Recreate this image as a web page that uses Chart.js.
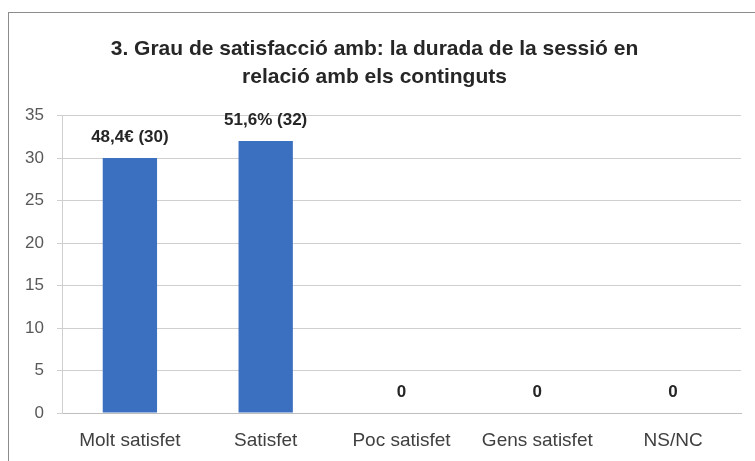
<!DOCTYPE html>
<html>
<head>
<meta charset="utf-8">
<script src="https://cdn.jsdelivr.net/npm/chart.js@4/dist/chart.umd.min.js"></script>
<style>
  body { margin: 0; background: #fff; }
  #wrap { position: relative; width: 755px; height: 461px; }
  #frame { position: absolute; left: 8px; top: 12px; width: 760px; height: 460px;
           border-left: 1px solid #8c8c8c; border-top: 1px solid #8c8c8c; pointer-events: none; }
</style>
</head>
<body>
<div id="wrap">
  <canvas id="grafico" width="755" height="461"></canvas>
  <div id="frame"></div>
</div>
<script>
const categorias = ['Molt satisfet', 'Satisfet', 'Poc satisfet', 'Gens satisfet', 'NS/NC'];
const respostes = [30, 32, 0, 0, 0];
const etiquetes = ['48,4€ (30)', '51,6% (32)', '0', '0', '0'];
const titol = ['3. Grau de satisfacció amb: la durada de la sessió en', 'relació amb els continguts'];

// etiquetes de dades damunt de cada barra
const etiquetesPlugin = {
  id: 'etiquetes',
  afterDatasetsDraw(chart) {
    const ctx = chart.ctx;
    const meta = chart.getDatasetMeta(0);
    ctx.save();
    ctx.font = 'bold 17px "Liberation Sans", Arial, sans-serif';
    ctx.fillStyle = '#262626';
    ctx.textAlign = 'center';
    ctx.textBaseline = 'middle';
    meta.data.forEach((bar, i) => {
      ctx.fillText(etiquetes[i], bar.x, bar.y - 21);
    });
    ctx.restore();
  }
};

const ctx = document.getElementById('grafico');
new Chart(ctx, {
  type: 'bar',
  data: {
    labels: categorias,
    datasets: [{
      label: 'Respostes',
      data: respostes,
      backgroundColor: (c) => {
        const area = c.chart.chartArea;
        const el = c.element;
        if (!area || !el || el.width === undefined) return '#3b6fc0';
        const g = c.chart.ctx.createLinearGradient(el.x - el.width / 2, 0, el.x + el.width / 2, 0);
        g.addColorStop(0, '#3165b4');
        g.addColorStop(0.5, '#4680d0');
        g.addColorStop(1, '#3165b4');
        return g;
      },
      barPercentage: 0.8,
      categoryPercentage: 0.5
    }]
  },
  plugins: [etiquetesPlugin],
  options: {
    responsive: false,
    animation: false,
    layout: { padding: { left: 8, right: 14, top: 13, bottom: 0 } },
    plugins: {
      legend: { display: false },
      tooltip: { enabled: false },
      title: {
        display: true,
        text: titol,
        color: '#262626',
        font: { family: '"Liberation Sans", Arial, sans-serif', size: 21, weight: 'bold', lineHeight: 1.3 },
        padding: { top: 23, bottom: 25 }
      }
    },
    scales: {
      x: {
        grid: { display: false, drawTicks: false },
        border: { display: true, color: '#bfbfbf', width: 1 },
        ticks: {
          color: '#404040',
          padding: 16,
          font: { family: '"Liberation Sans", Arial, sans-serif', size: 19 }
        },
        afterFit: (s) => { s.height = 48; }
      },
      y: {
        min: 0,
        max: 35,
        grid: { color: '#cfcfcf', tickLength: 5 },
        border: { display: true, color: '#cfcfcf' },
        ticks: {
          stepSize: 5,
          color: '#595959',
          padding: 13,
          font: { family: '"Liberation Sans", Arial, sans-serif', size: 17 }
        },
        afterFit: (s) => { s.width = 54; }
      }
    }
  }
});
</script>
</body>
</html>
